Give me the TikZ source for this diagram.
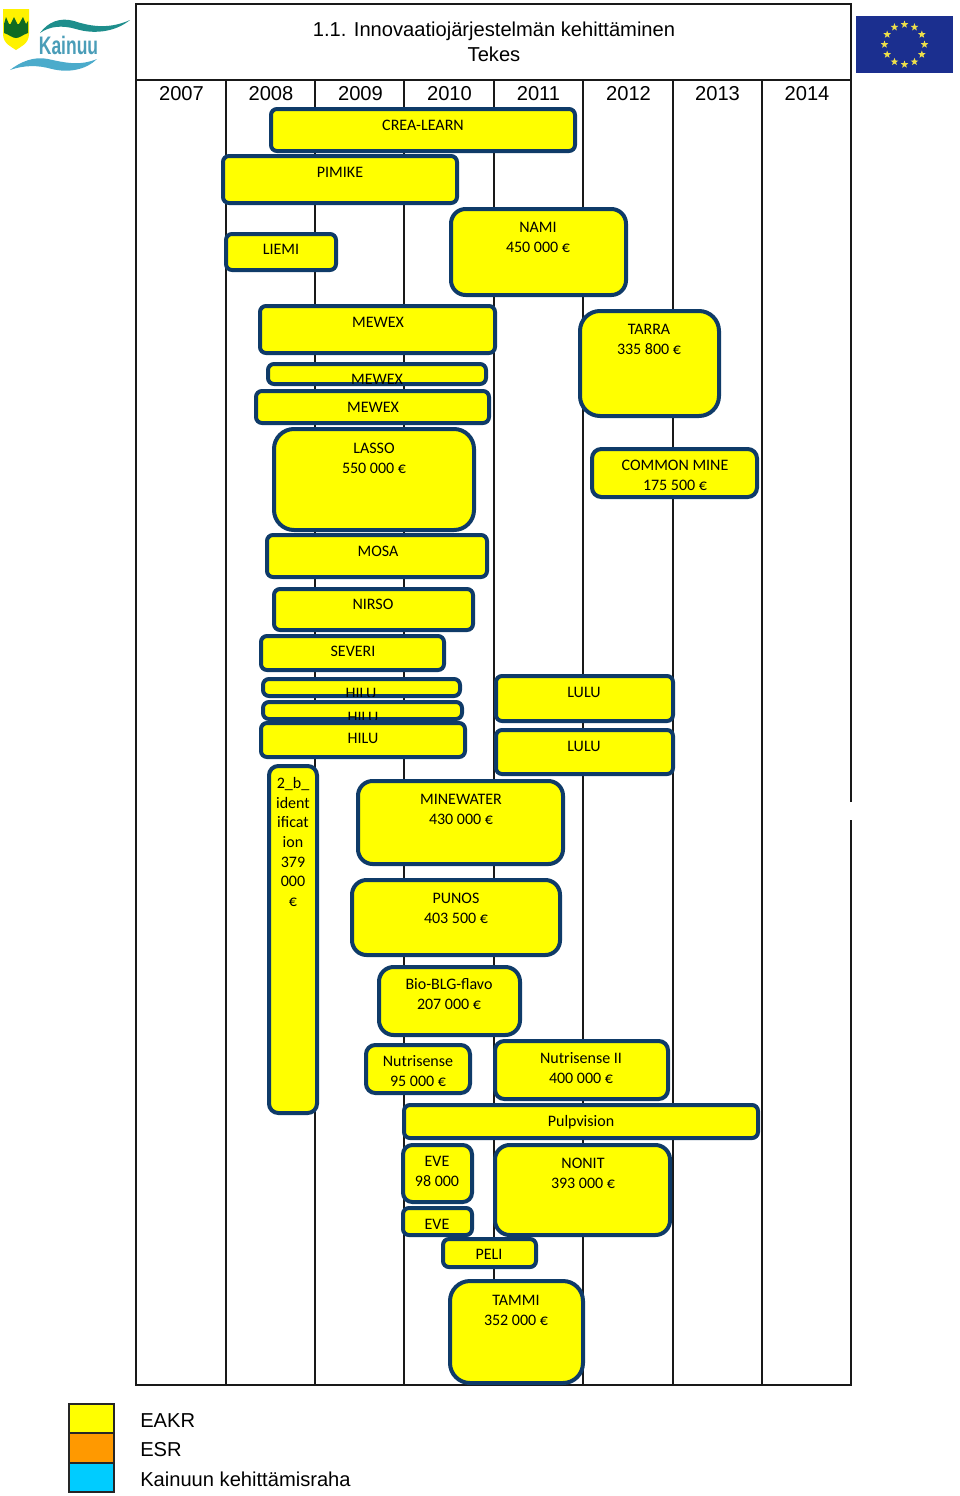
\documentclass[tikz,border=0pt]{standalone}
\usepackage{fontspec}
\setmainfont{Liberation Sans}
\newfontfamily\barfont{Carlito}
\usetikzlibrary{fit, shapes.geometric}
\definecolor{barblue}{HTML}{0F3B68}
\definecolor{barfill}{HTML}{FFFF00}
\definecolor{esrfill}{HTML}{FF9900}
\definecolor{kehfill}{HTML}{00CCFF}
\definecolor{eublue}{HTML}{1B2F8F}
\definecolor{eugold}{HTML}{EFE04A}
\definecolor{logoteal}{HTML}{1E8E8C}
\definecolor{logosky}{HTML}{4BABCB}
\definecolor{logoword}{HTML}{4A9DB8}
\definecolor{logogreen}{HTML}{0F6B22}

\begin{document}
\begin{tikzpicture}[
  x=0.75pt, y=-0.75pt,
  bar/.style={draw=barblue, fill=barfill, line width=3pt, inner sep=0pt, rounded corners=4.5pt},
  midbar/.style={bar, rounded corners=7pt},
  bigbar/.style={bar, rounded corners=11pt},
  hugebar/.style={bar, rounded corners=15pt},
  barlabel/.style={font=\barfont\fontsize{12}{15}\selectfont, align=center, inner sep=0pt},
  headlabel/.style={font=\fontsize{15.1}{18.75}\selectfont, align=center, inner sep=0pt},
  gridline/.style={draw=black!90, line width=1.5pt},
  swatch/.style={draw=black!85, line width=1.5pt, inner sep=0pt},
  legtext/.style={font=\fontsize{15.1}{18}\selectfont, anchor=west, inner sep=0pt},
  eustar/.style={star, star points=5, star point ratio=2.4, fill=eugold, inner sep=0pt, minimum size=6pt},
]
  \useasboundingbox (0,0) rectangle (960,1496);

  % ---- Frame and year columns ----
  \draw[gridline] (851,802) -- (851,4) -- (136,4) -- (136,1385) -- (851,1385) -- (851,820);
  \draw[gridline] (136,80) -- (851,80);
  \foreach \xcol in {225.5,315,404.4,493.8,583,672.5,762}
    \draw[gridline] (\xcol,80) -- (\xcol,1385);
  \node[headlabel] (title) at (494,41.7) {1.1. Innovaatiojärjestelmän kehittäminen\\Tekes};
  \foreach \year/\xcol in {2007/181.5,2008/271,2009/360.5,2010/449.5,2011/538.5,2012/628.5,2013/717.5,2014/807}
    \node[headlabel] (y\year) at (\xcol,94) {\year};

  % ---- Projects, top to bottom ----
  \node[bar, fit={(271,109)(575,151)}] (crea) {};
  \node[barlabel] (crealabel) at (423,125) {CREA-LEARN};
  \node[bar, fit={(223,156)(457,203)}] (pimike) {};
  \node[barlabel] (pimikelabel) at (340,172) {PIMIKE};
  \node[bar, fit={(226,234)(336,270)}] (liemi) {};
  \node[barlabel] (liemilabel) at (281,249) {LIEMI};
  \node[bigbar, fit={(451,209)(626,295)}] (nami) {};
  \node[barlabel] (namilabel) at (538,237) {NAMI\\450 000 €};

  \node[bar, fit={(260,306)(495,353)}] (mewexa) {};
  \node[barlabel] (mewexalabel) at (378,322) {MEWEX};
  \node[bar, fit={(268,364)(486,384)}] (mewexb) {};
  \begin{scope}
    \clip ([shift={(2,-2)}]mewexb.south west) rectangle ([shift={(-2,2)}]mewexb.north east);
    \node[barlabel] (mewexblabel) at (377,379) {MEWEX};
  \end{scope}
  \node[bar, fit={(256,391)(489,423)}] (mewexc) {};
  \node[barlabel] (mewexclabel) at (373,407) {MEWEX};
  \node[hugebar, fit={(580,311)(719,416)}] (tarra) {};
  \node[barlabel] (tarralabel) at (649,339) {TARRA\\335 800 €};
  \node[hugebar, fit={(274,429)(474,530)}] (lasso) {};
  \node[barlabel] (lassolabel) at (374,458) {LASSO\\550 000 €};
  \node[midbar, fit={(592,449)(757,497)}] (common) {};
  \node[barlabel] (commonlabel) at (675,475) {COMMON MINE\\175 500 €};

  \node[bar, fit={(267,535)(487,577)}] (mosa) {};
  \node[barlabel] (mosalabel) at (378,551) {MOSA};
  \node[bar, fit={(274,589)(473,630)}] (nirso) {};
  \node[barlabel] (nirsolabel) at (373,604) {NIRSO};
  \node[bar, fit={(261,636)(444,670)}] (severi) {};
  \node[barlabel] (severilabel) at (353,651) {SEVERI};

  % the two upper HILU bars cut off their own text
  \node[bar, fit={(263,679)(460,696)}] (hilua) {};
  \begin{scope}
    \clip ([shift={(2,-2)}]hilua.south west) rectangle ([shift={(-2,2)}]hilua.north east);
    \node[barlabel] (hilualabel) at (361,693) {HILU};
  \end{scope}
  \node[bar, fit={(263,702)(462,719)}] (hilub) {};
  \begin{scope}
    \clip ([shift={(2,-2)}]hilub.south west) rectangle ([shift={(-2,2)}]hilub.north east);
    \node[barlabel] (hilublabel) at (363,717) {HILU};
  \end{scope}
  \node[bar, fit={(261,723)(465,757)}] (hiluc) {};
  \node[barlabel] (hiluclabel) at (363,738) {HILU};
  \node[bar, fit={(496,676)(673,721)}] (lulua) {};
  \node[barlabel] (lulualabel) at (584,692) {LULU};
  \node[bar, fit={(496,730)(673,774)}] (lulub) {};
  \node[barlabel] (lulublabel) at (584,746) {LULU};

  \node[midbar, fit={(269,766)(317,1113)}] (ident) {};
  \node[barlabel, font=\barfont\fontsize{12}{14.8}\selectfont] (identlabel) at (293,842)
    {2\_b\_\\ident\\ificat\\ion\\379\\000\\€};
  \node[bigbar, fit={(358,781)(563,864)}] (minewater) {};
  \node[barlabel] (minewaterlabel) at (461,809) {MINEWATER\\430 000 €};
  \node[bigbar, fit={(352,880)(560,955)}] (punos) {};
  \node[barlabel] (punoslabel) at (456,908) {PUNOS\\403 500 €};
  \node[bigbar, fit={(379,967)(520,1035)}] (bioblg) {};
  \node[barlabel] (bioblglabel) at (449,994) {Bio-BLG-flavo\\207 000 €};
  \node[midbar, fit={(366,1045)(470,1093)}] (nutria) {};
  \node[barlabel] (nutrialabel) at (418,1071.5) {Nutrisense\\95 000 €};
  \node[midbar, fit={(495,1041)(668,1099)}] (nutrib) {};
  \node[barlabel] (nutriblabel) at (581,1068) {Nutrisense II\\400 000 €};
  \node[bar, fit={(404,1105)(758,1138)}] (pulp) {};
  \node[barlabel] (pulplabel) at (581,1122) {Pulpvision};
  \node[midbar, fit={(403,1145)(472,1202)}] (evea) {};
  \node[barlabel] (evealabel) at (437,1171.5) {EVE\\98 000};
  \node[bigbar, fit={(495,1145)(670,1235)}] (nonit) {};
  \node[barlabel] (nonitlabel) at (583,1173) {NONIT\\393 000 €};
  \node[bar, fit={(403,1208)(472,1235)}] (eveb) {};
  \node[barlabel] (eveblabel) at (437,1224) {EVE};
  \node[bar, fit={(443,1239)(536,1267)}] (peli) {};
  \node[barlabel] (pelilabel) at (489,1254) {PELI};
  \node[hugebar, fit={(450,1281)(583,1383)}] (tammi) {};
  \node[barlabel] (tammilabel) at (516,1310) {TAMMI\\352 000 €};

  % ---- Legend ----
  \node[swatch, fill=barfill, fit={(69,1404)(114,1433)}] (eakr) {};
  \node[swatch, fill=esrfill, fit={(69,1433)(114,1463)}] (esr) {};
  \node[swatch, fill=kehfill, fit={(69,1463)(114,1492)}] (kehraha) {};
  \node[legtext] (eakrlabel) at (140,1420.5) {EAKR};
  \node[legtext] (esrlabel) at (140,1450) {ESR};
  \node[legtext] (kehrahalabel) at (140,1479.5) {Kainuun kehittämisraha};

  % ---- EU flag ----
  \node[fill=eublue, inner sep=0pt, fit={(856,16)(953,73)}] (euflag) {};
  \foreach \i in {1,...,12}
    \node[eustar] (star\i) at ({904.5+20*cos(30*\i)},{44.5+20*sin(30*\i)}) {};

  % ---- Kainuu logo ----
  \fill[barfill!90!orange] (3,9) -- (29,9) -- (29,34) .. controls (29,44) and (20,47) .. (16,50)
    .. controls (12,47) and (3,44) .. (3,34) -- cycle;
  \fill[logogreen] (4,24) -- (6,17) -- (9,24) -- (10.5,24) -- (14,17) -- (17.5,24) -- (19,24) -- (23,17)
    -- (26,24) -- (28,21) -- (28,33) .. controls (22,35) and (20,38) .. (16,38)
    .. controls (12,38) and (10,35) .. (4,33) -- cycle;
  \fill[logoteal] (40,33) .. controls (48,22) and (60,17) .. (74,21)
    .. controls (92,27) and (110,29) .. (130,20)
    .. controls (114,33) and (92,34) .. (76,29) .. controls (62,25) and (50,26) .. (40,33) -- cycle;
  \fill[logosky] (10,70) .. controls (20,62) and (34,56) .. (48,59)
    .. controls (66,63) and (80,66) .. (97,59)
    .. controls (86,70) and (68,73) .. (52,69) .. controls (38,65) and (24,65) .. (10,70) -- cycle;
  \node[font=\fontsize{19}{19}\selectfont\bfseries, text=logoword, inner sep=0pt] (kainuu) at (68.5,45)
    {\scalebox{0.69}[1]{Kainuu}};
\end{tikzpicture}
\end{document}
